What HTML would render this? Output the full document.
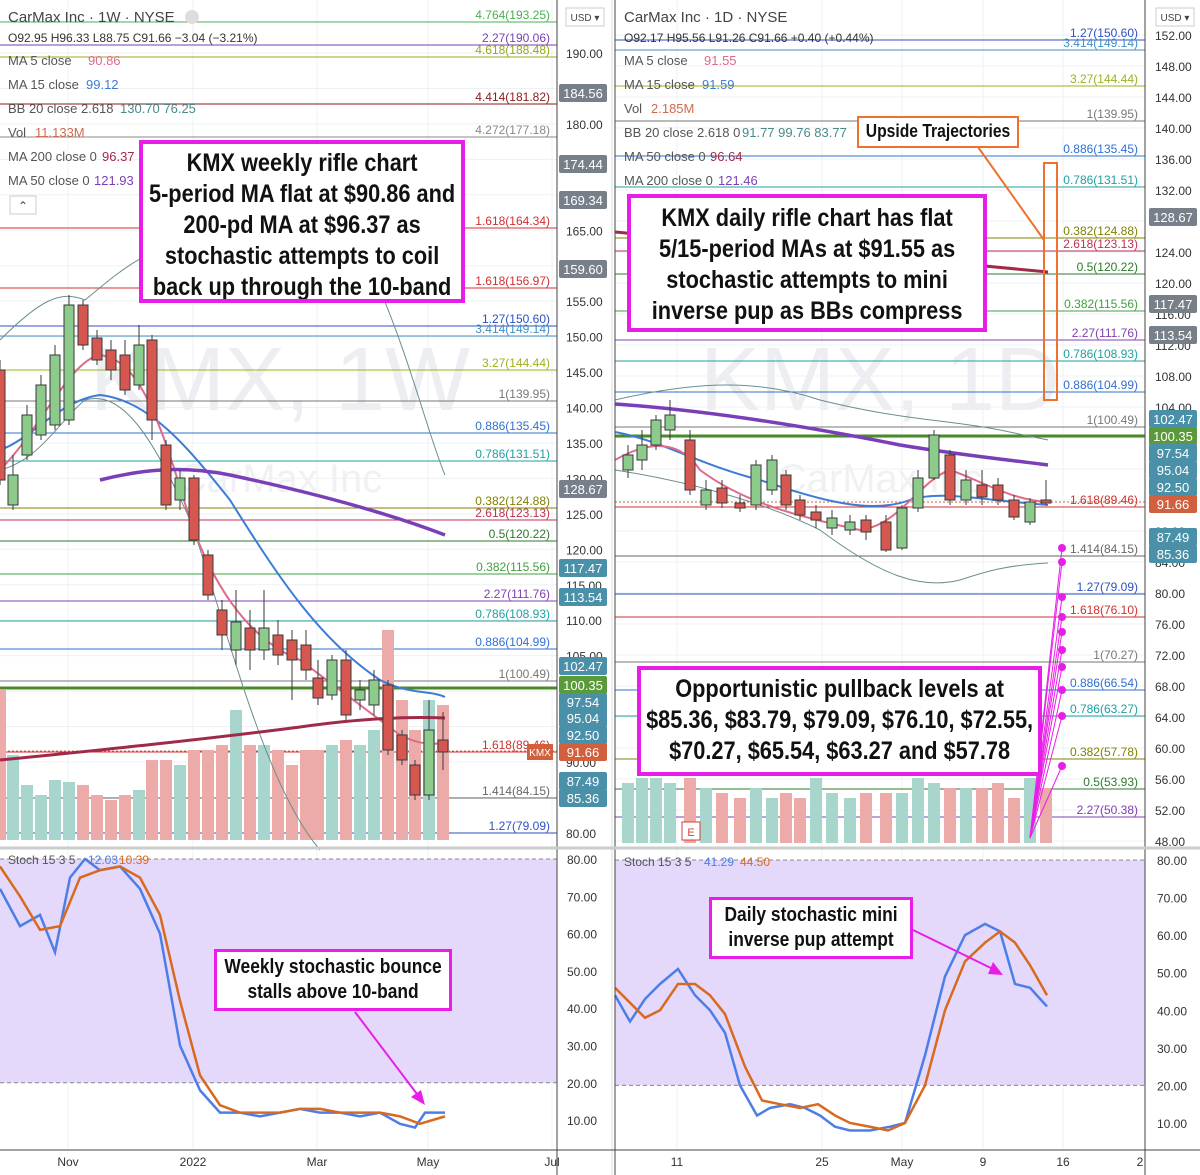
<!DOCTYPE html>
<html><head><meta charset="utf-8"><style>
body{margin:0;background:#fff;width:1200px;height:1175px;overflow:hidden;font-family:"Liberation Sans",sans-serif}
svg{display:block}
.box{position:absolute;border:4px solid #e81ee8;background:#fff;font-family:"Liberation Sans",sans-serif;font-weight:bold;color:#111;text-align:center;font-size:25px;line-height:31px;box-sizing:border-box;overflow:hidden}
.in{white-space:nowrap;transform-origin:0 0;transform:scaleX(.87);width:115%}
</style></head><body>
<div style="position:relative;width:1200px;height:1175px">
<svg id="s" width="1200" height="1175" xmlns="http://www.w3.org/2000/svg" font-family="Liberation Sans, sans-serif"></svg>
<div class="box" style="left:139px;top:140px;width:326px;height:163px;padding-top:4px"><div class="in">KMX weekly rifle chart<br>5-period MA flat at $90.86 and<br>200-pd MA at $96.37 as<br>stochastic attempts to coil<br>back up through the 10-band</div></div>
<div class="box" style="left:627px;top:194px;width:360px;height:138px;padding-top:5px"><div class="in">KMX daily rifle chart has flat<br>5/15-period MAs at $91.55 as<br>stochastic attempts to mini<br>inverse pup as BBs compress</div></div>
<div class="box" style="left:637px;top:666px;width:405px;height:110px;padding-top:4px"><div class="in">Opportunistic pullback levels at<br>$85.36, $83.79, $79.09, $76.10, $72.55,<br>$70.27, $65.54, $63.27 and $57.78</div></div>
<div class="box" style="left:214px;top:949px;width:238px;height:62px;font-size:20px;line-height:25px;padding-top:3px;border-width:3px"><div class="in">Weekly stochastic bounce<br>stalls above 10-band</div></div>
<div class="box" style="left:709px;top:897px;width:204px;height:62px;font-size:20px;line-height:25px;padding-top:3px;border-width:3px"><div class="in">Daily stochastic mini<br>inverse pup attempt</div></div>
<div class="box" style="left:857px;top:116px;width:162px;height:32px;font-size:18px;line-height:26px;border:2px solid #f07030"><div class="in">Upside Trajectories</div></div>
</div>
<script>
const s=document.getElementById('s');let h='';
const L=p=>53+(190-p)*7.09, R=p=>35+(152-p)*7.75;
const SL=v=>859+(80-v)*3.73, SR=v=>860+(80-v)*3.757;
function ln(x1,y1,x2,y2,c,w,extra){h+=`<line x1="${x1}" y1="${y1}" x2="${x2}" y2="${y2}" stroke="${c}" stroke-width="${w||1}" ${extra||''}/>`}
function tx(x,y,t,c,fs,anch,fw){h+=`<text x="${x}" y="${y}" fill="${c}" font-size="${fs||12}" text-anchor="${anch||'start'}" ${fw?'font-weight="'+fw+'"':''}>${t}</text>`}
function rc(x,y,w,hh,f,extra){h+=`<rect x="${x}" y="${y}" width="${w}" height="${hh}" fill="${f}" ${extra||''}/>`}
for(let p=80;p<=190;p+=5){ln(0,L(p),557,L(p),'#eef0f3')}
for(let p=48;p<=152;p+=4){ln(615,R(p),1145,R(p),'#eef0f3')}
[68,193,317,428,552].forEach(x=>ln(x,0,x,1150,'#eef0f3'));
[677,822,902,983,1063].forEach(x=>ln(x,0,x,1150,'#eef0f3'));
rc(0,SL(80),557,SL(20)-SL(80),'#e4d9fa');rc(615,SR(80),530,SR(20)-SR(80),'#e4d9fa');
ln(0,SL(80),557,SL(80),'#888',1,'stroke-dasharray="4 3"');ln(0,SL(20),557,SL(20),'#888',1,'stroke-dasharray="4 3"');
ln(615,SR(80),1145,SR(80),'#888',1,'stroke-dasharray="4 3"');ln(615,SR(20),1145,SR(20),'#888',1,'stroke-dasharray="4 3"');
tx(280,410,'KMX, 1W','#eceef1',90,'middle');tx(280,492,'CarMax Inc','#eff1f3',40,'middle');
tx(880,410,'KMX, 1D','#eceef1',90,'middle');tx(880,492,'CarMax Inc','#eff1f3',40,'middle');
const LF=[['4.764(193.25)','#4caf50',22],['2.27(190.06)','#7a3fb0',45],['4.618(188.48)','#9aa820',57],['4.414(181.82)','#8b1a1a',104],['4.272(177.18)','#888',137],['1.618(164.34)','#d03030',228],['1.618(156.97)','#d03030',288],['1.27(150.60)','#3050c0',326],['3.414(149.14)','#4090c0',336],['3.27(144.44)','#a0b020',370],['1(139.95)','#777',401],['0.886(135.45)','#3070d0',433],['0.786(131.51)','#20a0a0',461],['0.382(124.88)','#808000',508],['2.618(123.13)','#c03050',520],['0.5(120.22)','#2d7a2d',541],['0.382(115.56)','#40a040',574],['2.27(111.76)','#8040b0',601],['0.786(108.93)','#20a0a0',621],['0.886(104.99)','#3070d0',649],['1(100.49)','#777',681],['1.618(89.46)','#d03030',752],['1.414(84.15)','#666',798],['1.27(79.09)','#3050c0',833]];
LF.forEach(f=>{ln(0,f[2],557,f[2],f[1],1);tx(550,f[2]-3,f[0],f[1],12,'end')});
const RF=[['1.27(150.60)',40,'#3050c0'],['3.414(149.14)',50,'#4090c0'],['3.27(144.44)',86,'#a0b020'],['1(139.95)',121,'#777'],['0.886(135.45)',156,'#3070d0'],['0.786(131.51)',187,'#20a0a0'],['0.382(124.88)',238,'#808000'],['2.618(123.13)',251,'#c03050'],['0.5(120.22)',274,'#2d7a2d'],['0.382(115.56)',311,'#40a040'],['2.27(111.76)',340,'#8040b0'],['0.786(108.93)',361,'#20a0a0'],['0.886(104.99)',392,'#3070d0'],['1(100.49)',427,'#777'],['1.618(89.46)',507,'#d03030'],['1.414(84.15)',556,'#666'],['1.27(79.09)',594,'#3050c0'],['1.618(76.10)',617,'#d03030'],['1(70.27)',662,'#777'],['0.886(66.54)',690,'#3070d0'],['0.786(63.27)',716,'#20a0a0'],['0.382(57.78)',759,'#808000'],['0.5(53.93)',789,'#2d7a2d'],['2.27(50.38)',817,'#8040b0']];
RF.forEach(f=>{ln(615,f[1],1145,f[1],f[2],1);tx(1138,f[1]-3,f[0],f[2],12,'end')});
ln(0,688,557,688,'#4a8a2a',3);ln(615,436,1145,436,'#4a8a2a',3);
ln(0,751,557,751,'#d06040',1,'stroke-dasharray="2 2"');ln(615,502,1145,502,'#d06040',1,'stroke-dasharray="2 2"');
const VL=[[0,150,'r'],[13,85,'g'],[27,55,'g'],[41,45,'g'],[55,60,'g'],[69,58,'g'],[83,55,'r'],[97,45,'r'],[111,40,'r'],[125,45,'r'],[139,50,'g'],[152,80,'r'],[166,80,'r'],[180,75,'g'],[194,90,'r'],[208,90,'r'],[222,95,'r'],[236,130,'g'],[250,95,'r'],[264,95,'g'],[278,90,'r'],[292,75,'r'],[306,90,'r'],[318,90,'r'],[332,95,'g'],[346,100,'r'],[360,95,'g'],[374,110,'g'],[388,210,'r'],[402,140,'r'],[415,110,'r'],[429,140,'g'],[443,135,'r']];
VL.forEach(v=>rc(v[0]-6,840-v[1],12,v[1],v[2]=='g'?'#a8d5cc':'#ecaaa8'));
const VR=[[628,60,'g'],[642,65,'g'],[656,65,'g'],[670,60,'g'],[690,65,'r'],[706,55,'g'],[722,50,'r'],[740,45,'r'],[756,55,'g'],[772,45,'g'],[786,50,'r'],[800,45,'r'],[816,65,'g'],[832,50,'g'],[850,45,'g'],[866,50,'r'],[886,50,'r'],[902,50,'g'],[918,65,'g'],[934,60,'g'],[950,55,'r'],[966,55,'g'],[982,55,'r'],[998,60,'r'],[1014,45,'r'],[1030,65,'g'],[1046,55,'r']];
VR.forEach(v=>rc(v[0]-6,843-v[1],12,v[1],v[2]=='g'?'#a8d5cc':'#ecaaa8'));
h+=`<path d="M0 340 C40 300 60 290 85 300 C110 280 140 250 190 240 C260 220 330 180 380 290 C410 360 430 440 445 475" fill="none" stroke="#6b8e8e" stroke-width="1"/>`;
h+=`<path d="M0 470 C40 460 60 420 85 400 C120 390 150 430 190 520 C220 600 260 780 320 850" fill="none" stroke="#6b8e8e" stroke-width="1"/>`;
h+=`<path d="M615 400 C700 380 760 380 820 400 C900 420 950 420 1000 430 L1048 440" fill="none" stroke="#6b8e8e"/>`;
h+=`<path d="M615 470 C680 480 760 500 820 530 C880 575 920 590 960 580 C990 570 1010 565 1048 563" fill="none" stroke="#6b8e8e"/>`;
h+=`<path d="M0 450 C30 440 60 400 100 395 C150 400 190 450 230 500 C280 580 320 640 380 680 C410 695 430 690 445 697" fill="none" stroke="#3d7bd9" stroke-width="2"/>`;
h+=`<path d="M0 470 C40 430 70 360 100 355 C140 360 160 420 190 520 C215 590 250 640 300 660 C340 690 380 720 400 735 C420 745 435 745 445 742" fill="none" stroke="#e06a8a" stroke-width="2"/>`;
h+=`<path d="M100 480 C140 470 180 465 230 475 C300 490 380 510 445 535" fill="none" stroke="#7a3fb8" stroke-width="3.5"/>`;
h+=`<path d="M0 760 C100 750 200 740 300 727 C350 720 400 716 445 718" fill="none" stroke="#a02a4a" stroke-width="3"/>`;
h+=`<path d="M615 404 C700 410 800 425 900 445 C960 455 1010 460 1048 465" fill="none" stroke="#7a3fb8" stroke-width="3.5"/>`;
h+=`<path d="M615 232 C700 240 800 250 900 258 L1048 272" fill="none" stroke="#a02a4a" stroke-width="3"/>`;
h+=`<path d="M615 432 C660 440 700 465 760 480 C820 500 870 515 910 500 C940 490 980 500 1048 505" fill="none" stroke="#3d7bd9" stroke-width="2"/>`;
h+=`<path d="M615 460 C650 440 680 440 700 470 C740 500 790 515 860 530 C900 525 920 480 950 470 C980 480 1010 500 1048 502" fill="none" stroke="#e06a8a" stroke-width="2"/>`;
const CL=[[0,370,480,360,485,'r'],[13,475,505,455,510,'g'],[27,415,455,405,460,'g'],[41,385,435,375,440,'g'],[55,355,425,345,430,'g'],[69,305,420,295,425,'g'],[83,305,345,300,350,'r'],[97,338,360,330,365,'r'],[111,350,370,340,380,'r'],[125,355,390,340,395,'r'],[139,345,385,325,390,'g'],[152,340,420,335,440,'r'],[166,445,505,440,510,'r'],[180,478,500,470,510,'g'],[194,478,540,475,545,'r'],[208,555,595,550,600,'r'],[222,610,635,600,650,'r'],[236,622,650,590,665,'g'],[250,628,650,610,670,'r'],[264,628,650,590,660,'g'],[278,635,655,620,665,'r'],[292,640,660,630,700,'r'],[306,645,670,630,680,'r'],[318,678,698,660,705,'r'],[332,660,695,655,700,'g'],[346,660,715,650,720,'r'],[360,690,700,680,710,'g'],[374,680,705,670,715,'g'],[388,685,750,680,755,'r'],[402,735,760,730,765,'r'],[415,765,795,760,800,'r'],[429,730,795,700,800,'g'],[443,740,752,712,770,'r']];
const CR=[[628,455,470,445,478,'g'],[642,445,460,430,470,'g'],[656,420,445,415,450,'g'],[670,415,430,400,440,'g'],[690,440,490,430,495,'r'],[706,490,505,480,510,'g'],[722,488,503,480,508,'r'],[740,503,508,495,512,'r'],[756,465,505,460,510,'g'],[772,460,490,455,495,'g'],[786,475,505,470,510,'r'],[800,500,515,495,520,'r'],[816,512,520,505,528,'r'],[832,518,528,510,535,'g'],[850,522,530,515,535,'g'],[866,520,532,515,540,'r'],[886,522,550,515,552,'r'],[902,508,548,505,550,'g'],[918,478,508,470,512,'g'],[934,435,478,430,480,'g'],[950,455,500,450,505,'r'],[966,480,500,470,505,'g'],[982,485,497,470,505,'r'],[998,485,500,478,505,'r'],[1014,500,517,495,520,'r'],[1030,502,522,498,525,'g'],[1046,500,503,480,505,'r']];
[...CL,...CR].forEach(c=>{const g=c[5]=='g',f=g?'#8ccb8c':'#d6574f',st='#3a3a3a';ln(c[0],c[3],c[0],c[4],st,1);rc(c[0]-5,Math.min(c[1],c[2]),10,Math.abs(c[2]-c[1]),f,`stroke="${st}" stroke-width="1"`)});
const sp=(pts,f)=>'M'+pts.map(p=>p[0]+' '+f(p[1])).join(' L');
const slb=[[0,72],[20,62],[40,65],[55,55],[70,75],[85,80],[100,77],[120,78],[140,72],[160,60],[180,30],[200,18],[220,12],[240,12],[260,11],[280,12],[300,13],[320,12],[340,12],[360,11],[380,12],[400,9],[415,8],[425,12],[445,12]];
const slo=[[0,78],[20,70],[40,61],[60,62],[80,75],[100,77],[120,78],[140,75],[160,65],[180,42],[200,22],[220,14],[240,12],[260,12],[280,12],[300,13],[320,13],[340,12],[360,12],[380,12],[400,11],[420,9],[445,11]];
h+=`<path d="${sp(slb,SL)}" fill="none" stroke="#4d7ee8" stroke-width="2.5"/><path d="${sp(slo,SL)}" fill="none" stroke="#d86a20" stroke-width="2.5"/>`;
const srb=[[615,44],[630,37],[645,43],[660,47],[678,51],[695,44],[710,40],[725,34],[740,20],[757,12],[770,14],[790,15],[805,14],[820,12],[835,9],[850,8],[870,8],[890,9],[905,10],[925,28],[945,49],[965,60],[985,63],[1000,61],[1015,47],[1030,46],[1047,41]];
const sro=[[615,46],[630,42],[645,38],[660,40],[678,47],[695,47],[710,44],[725,39],[745,25],[762,16],[780,15],[800,14],[818,15],[835,12],[850,10],[870,9],[888,8],[905,10],[925,20],[945,40],[965,53],[985,58],[1000,61],[1015,58],[1030,52],[1047,44]];
h+=`<path d="${sp(srb,SR)}" fill="none" stroke="#4d7ee8" stroke-width="2.5"/><path d="${sp(sro,SR)}" fill="none" stroke="#d86a20" stroke-width="2.5"/>`;
ln(355,1012,420,1098,'#e81ee8',2);h+=`<polygon points="425,1105 411,1097 421,1090" fill="#e81ee8"/>`;
ln(913,930,995,970,'#e81ee8',2);h+=`<polygon points="1003,975 988,974 993,962" fill="#e81ee8"/>`;
rc(1044,163,13,237,'none','stroke="#f07030" stroke-width="2"');ln(978,147,1044,240,'#f07030',2);
[548,562,597,617,632,650,667,690,716,766].forEach(y=>{ln(1030,838,1062,y,'#e81ee8',1);h+=`<circle cx="1062" cy="${y}" r="4" fill="#e81ee8"/>`});
rc(682,822,18,18,'#fff','stroke="#d04040"');tx(691,836,'E','#d04040',11,'middle');
ln(557,0,557,1175,'#444');ln(612,0,612,1175,'#ddd');ln(615,0,615,1175,'#444');ln(1145,0,1145,1175,'#444');
ln(0,848,1200,848,'#ccc',3);ln(0,1150,1200,1150,'#444');
for(let p=80;p<=190;p+=5)tx(566,L(p)+5,p.toFixed(2),'#333',12);
for(let p=48;p<=152;p+=4)tx(1155,R(p)+5,p.toFixed(2),'#333',12);
for(let v=10;v<=80;v+=10){tx(567,SL(v)+5,v.toFixed(2),'#333',12);tx(1157,SR(v)+5,v.toFixed(2),'#333',12)}
function tag(x,y,t,c){rc(x,y-9,48,18,c,'rx="2"');tx(x+24,y+5,t,'#fff',13,'middle')}
[['184.56',93,'#777f88'],['174.44',164,'#777f88'],['169.34',200,'#777f88'],['159.60',269,'#777f88'],['128.67',489,'#777f88'],['117.47',568,'#4a90a8'],['113.54',597,'#4a90a8'],['102.47',666,'#4a90a8'],['100.35',685,'#5a9a3a'],['97.54',702,'#4a90a8'],['95.04',718,'#4a90a8'],['92.50',735,'#4a90a8'],['91.66',752,'#d0603e'],['87.49',781,'#4a90a8'],['85.36',798,'#4a90a8']].forEach(a=>tag(559,a[1],a[0],a[2]));
[['128.67',217,'#777f88'],['117.47',304,'#777f88'],['113.54',335,'#777f88'],['102.47',419,'#4a90a8'],['100.35',436,'#5a9a3a'],['97.54',453,'#4a90a8'],['95.04',470,'#4a90a8'],['92.50',487,'#4a90a8'],['91.66',504,'#d0603e'],['87.49',537,'#4a90a8'],['85.36',554,'#4a90a8']].forEach(a=>tag(1149,a[1],a[0],a[2]));
rc(527,744,26,16,'#d0603e');tx(540,756,'KMX','#fff',10,'middle');
[['Nov',68],['2022',193],['Mar',317],['May',428],['Jul',552]].forEach(a=>tx(a[1],1166,a[0],'#333',12,'middle'));
[['11',677],['25',822],['May',902],['9',983],['16',1063],['2',1140]].forEach(a=>tx(a[1],1166,a[0],'#333',12,'middle'));
function leg(x,rows){rows.forEach(r=>{tx(x,r[0],r[1],'#555',13);if(r[2])tx(x+r[3],r[0],r[2],r[4],13)})}
tx(8,22,'CarMax Inc · 1W · NYSE','#444',15);h+=`<circle cx="192" cy="17" r="7" fill="#ddd"/>`;
tx(8,42,'O92.95 H96.33 L88.75 C91.66 −3.04 (−3.21%)','#333',12);
leg(8,[[65,'MA 5 close','90.86',80,'#e06a8a'],[89,'MA 15 close','99.12',78,'#3d7bd9'],[113,'BB 20 close 2.618','130.70 76.25',112,'#4a8a8a'],[137,'Vol','11.133M',27,'#d06a50'],[161,'MA 200 close 0','96.37',94,'#a02a4a'],[185,'MA 50 close 0','121.93',86,'#7a3fb8']]);
rc(10,196,26,18,'#fff','stroke="#ccc"');tx(23,210,'⌃','#444',12,'middle');
tx(624,22,'CarMax Inc · 1D · NYSE','#444',15);
tx(624,42,'O92.17 H95.56 L91.26 C91.66 +0.40 (+0.44%)','#333',12);
leg(624,[[65,'MA 5 close','91.55',80,'#e06a8a'],[89,'MA 15 close','91.59',78,'#3d7bd9'],[113,'Vol','2.185M',27,'#d06a50'],[137,'BB 20 close 2.618 0','91.77 99.76 83.77',118,'#4a8a8a'],[161,'MA 50 close 0','96.64',86,'#a02a4a'],[185,'MA 200 close 0','121.46',94,'#7a3fb8']]);
tx(8,864,'Stoch 15 3 5','#555',12);tx(88,864,'12.03','#4d7ee8',12);tx(119,864,'10.39','#d86a20',12);
tx(624,866,'Stoch 15 3 5','#555',12);tx(704,866,'41.29','#4d7ee8',12);tx(740,866,'44.50','#d86a20',12);
rc(566,8,38,18,'#fff','stroke="#ccc"');tx(585,21,'USD ▾','#444',10,'middle');
rc(1156,8,38,18,'#fff','stroke="#ccc"');tx(1175,21,'USD ▾','#444',10,'middle');
s.innerHTML=h;
</script>
</body></html>
